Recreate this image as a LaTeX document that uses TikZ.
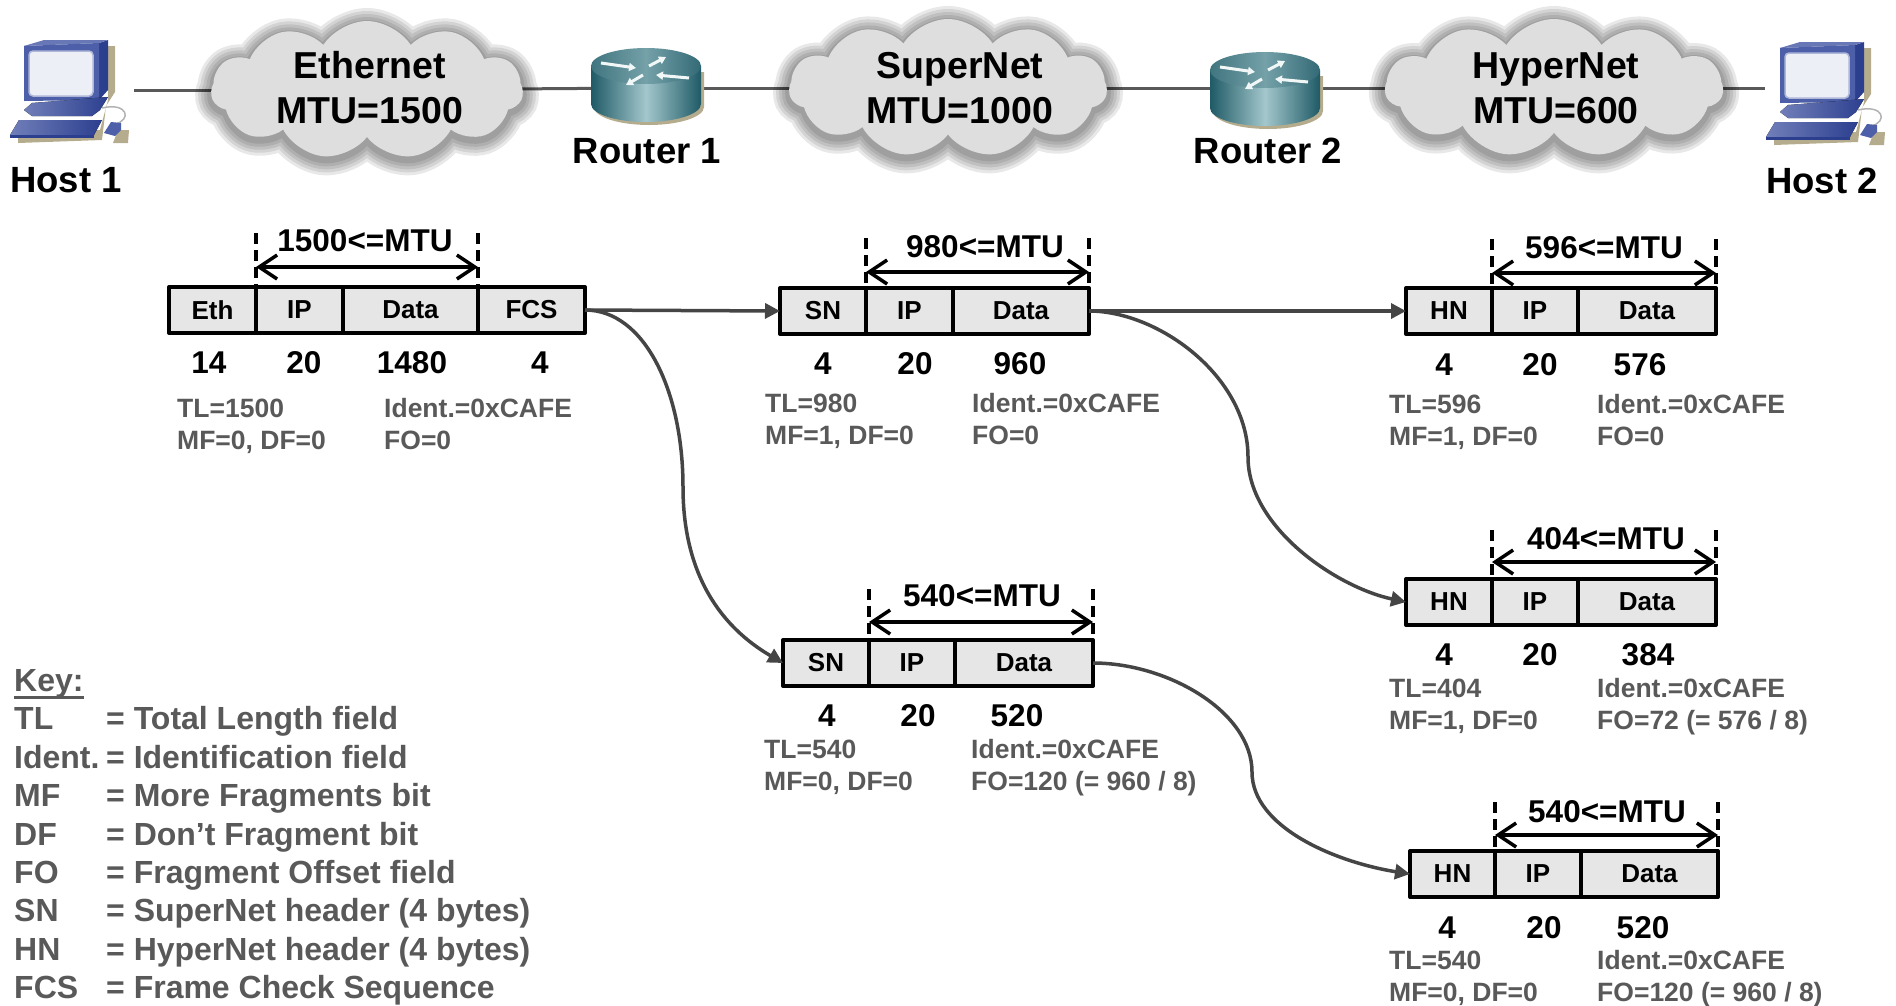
\documentclass[tikz,border=0pt]{standalone}
\usepackage{fontspec}
\setmainfont{Liberation Sans}
\usetikzlibrary{arrows.meta,shapes.symbols,backgrounds}

\definecolor{txtgray}{HTML}{595959}
\definecolor{linegray}{HTML}{454545}
\definecolor{cellgray}{HTML}{E6E6E6}
\definecolor{cloudgray}{HTML}{DEDEDE}
\definecolor{pcblue}{HTML}{4D5FA8}
\definecolor{pcdark}{HTML}{2C3F8F}
\definecolor{pctan}{HTML}{B5AC8E}
\definecolor{rtdark}{HTML}{1F5A66}
\definecolor{rtlight}{HTML}{A3C7CC}

\tikzset{
  netlabel/.style={font=\bfseries\fontsize{37.5}{45}\selectfont, align=center, inner sep=0pt},
  devlabel/.style={font=\bfseries\fontsize{36.5}{44}\selectfont, inner sep=0pt},
  mtulabel/.style={font=\bfseries\fontsize{31.5}{38}\selectfont, inner sep=0pt},
  num/.style={font=\bfseries\fontsize{31.5}{38}\selectfont, inner sep=0pt},
  cell/.style={draw=black, fill=cellgray, line width=4pt, line join=round, inner sep=0pt, outer sep=0pt,
    anchor=north west, minimum height=46pt, font=\bfseries\fontsize{26}{30}\selectfont},
  info/.style={font=\bfseries\fontsize{26.5}{32}\selectfont, text=txtgray, anchor=base west, inner sep=0pt},
  keyrow/.style={font=\bfseries\fontsize{32}{38}\selectfont, text=txtgray, anchor=base west, inner sep=0pt},
  netcloud/.style={cloud, cloud puffs=11, cloud puff arc=115, aspect=2, inner sep=0pt,
    minimum width=#1, minimum height=138pt},
  link/.style={draw=txtgray, line width=3pt},
  fragline/.style={draw=linegray, line width=3.5pt, -{Triangle[length=15pt,width=15pt]}},
  mtudash/.style={draw=black, line width=3.5pt, dash pattern=on 11pt off 6pt},
  mtuarrow/.style={draw=black, line width=3.5pt, {Straight Barb[length=18pt,width=24pt]}-{Straight Barb[length=18pt,width=24pt]}},
}

% cloud with grey halo: name, x, y, width, label x, text
\newcommand{\netarea}[6]{
  \foreach \w in {32,26,20,14,8}
    \node[netcloud=#4, draw=black, draw opacity=0.09, line width=\w pt] (#1halo\w) at (#2,#3+3) {};
  \node[netcloud=#4, fill=cloudgray] (#1) at (#2,#3) {};
  \node[netlabel] (#1txt) at (#5,88) {#6};
}

% computer icon, top left corner at x, y
\newcommand{\hostpc}[2]{
  \begin{scope}[shift={(#1,#2)}]
    \fill[pctan] (98,6) -- (105,6) -- (105,52) -- (96,66) -- (92,100) -- (8,103) -- (8,96) -- (90,90) -- (98,60) -- cycle;
    \fill[pctan] (103,103) -- (118,103) -- (119,90) -- (108,90) -- cycle;
    \fill[pcdark] (89,3) -- (98,0) -- (98,50) -- (89,60) -- cycle;
    \fill[pcblue!85!white] (14,6) -- (34,0) -- (98,0) -- (89,3) -- cycle;
    \fill[pcblue] (14,6) -- (89,3) -- (89,60) -- (14,61) -- cycle;
    \fill[draw=pcblue!45!white, line width=1.5pt, fill=white!90!pcblue, rounded corners=4pt] (19,11) rectangle (83,56);
    \fill[left color=pcblue!80!white, right color=pcdark] (14,70) -- (22,63) -- (98,57) -- (90,70) -- (82,76) -- (22,76) -- cycle;
    \fill[left color=pcblue!80!white, right color=pcdark] (9,80) -- (92,80) -- (84,95) -- (0,95) -- cycle;
    \fill[pcdark] (0,95) -- (84,95) -- (84,98) -- (0,98) -- cycle;
    \draw[gray!60, line width=1.5pt] (92,68) .. controls (118,62) and (122,80) .. (105,84);
    \fill[pcblue] (94,93) -- (101,82) -- (111,83) -- (111,90) -- (105,96) -- cycle;
  \end{scope}
}

% router icon, top left corner at x, y
\newcommand{\routerbox}[2]{
  \begin{scope}[shift={(#1,#2)}]
    \fill[pctan] (3,25) -- (3,60) arc[start angle=180, end angle=0, x radius=55, y radius=18] -- (113,25) -- cycle;
    \shade[left color=rtdark, right color=rtdark, middle color=rtlight]
      (0,19) -- (0,57) arc[start angle=180, end angle=0, x radius=55, y radius=18] -- (110,19) -- cycle;
    \shade[left color=rtdark!75!rtlight, right color=rtdark!85!rtlight, middle color=rtlight!65!rtdark] (55,19) ellipse[x radius=55, y radius=18];
    \foreach \ax/\ay/\bx/\by in {10/16/45/21, 58/19/75/10, 98/31/65/28, 52/28/35/38}
      \draw[white!85!rtlight, line width=3pt, -{Triangle[length=7pt,width=8pt]}] (\ax,\ay) -- (\bx,\by);
  \end{scope}
}

% frame cells: name, header, x0, x1, x2, x3, top
\newcommand{\fragbox}[7]{
  \node[cell, minimum width=#4-#3] (#1hdr) at (#3,#7) {#2};
  \node[cell, minimum width=#5-#4] (#1ip) at (#4,#7) {IP};
  \node[cell, minimum width=#6-#5] (#1data) at (#5,#7) {Data};
}

% mtu marker: name, x0, x1, top, arrow y, label x, label y, text
\newcommand{\mtumark}[8]{
  \coordinate (#1da) at (#2,#4);
  \coordinate (#1db) at (#3,#4);
  \draw[mtudash] (#1da) -- (#1ip.north west);
  \draw[mtudash] (#1db) -- (#1data.north east);
  \coordinate (#1aa) at (#2,#5);
  \coordinate (#1ab) at (#3,#5);
  \draw[mtuarrow] (#1aa) -- (#1ab);
  \node[mtulabel] (#1mtu) at (#6,#7) {#8};
}

% header lines: name, x left, x right, y, TL, MF/DF, FO
\newcommand{\fraginfo}[7]{
  \node[info] (#1tl) at (#2,#4+9) {#5};
  \node[info] (#1mf) at (#2,#4+41) {#6};
  \node[info] (#1id) at (#3,#4+9) {Ident.=0xCAFE};
  \node[info] (#1fo) at (#3,#4+41) {#7};
}

\begin{document}
\begin{tikzpicture}[x=1pt, y=-1pt]
  \useasboundingbox (0,0) rectangle (1896,1005);

  % top row
  \node[minimum width=124pt, minimum height=104pt, inner sep=0pt] (host1) at (72,90) {};
  \node[minimum width=119pt, minimum height=104pt, inner sep=0pt] (host2) at (1825,88) {};
  \node[devlabel] (host1txt) at (66,180) {Host 1};
  \node[devlabel] (host2txt) at (1822,181) {Host 2};
  \node[minimum width=110pt, minimum height=78pt, inner sep=0pt] (router1) at (646,88) {};
  \node[minimum width=110pt, minimum height=78pt, inner sep=0pt] (router2) at (1265,88) {};
  \node[devlabel] (router1txt) at (647,151) {Router 1};
  \node[devlabel] (router2txt) at (1268,151) {Router 2};

  \netarea{net1}{367}{90}{312pt}{370}{Ethernet\\MTU=1500}
  \netarea{net2}{948}{88}{318pt}{960}{SuperNet\\MTU=1000}
  \netarea{net3}{1554}{88}{338pt}{1556}{HyperNet\\MTU=600}

  \begin{scope}[on background layer]
    \draw[link] (host1.east) -- (net1.center);
    \draw[link] (net1.center) -- (router1.center);
    \draw[link] (router1.center) -- (net2.center);
    \draw[link] (net2.center) -- (router2.center);
    \draw[link] (router2.center) -- (net3.center);
    \draw[link] (net3.center) -- (host2.west);
  \end{scope}

  \hostpc{10}{40}
  \hostpc{1766}{42}
  \routerbox{591}{47}
  \routerbox{1210}{51}

  % frames
  \fragbox{eth}{Eth}{169}{256}{343}{478}{287}
  \node[cell, minimum width=107pt] (ethfcs) at (478,287) {FCS};
  \fragbox{sna}{SN}{780}{866}{953}{1089}{288}
  \fragbox{hna}{HN}{1406}{1492}{1578}{1716}{288}
  \fragbox{snb}{SN}{783}{869}{955}{1093}{640}
  \fragbox{hnb}{HN}{1406}{1492}{1578}{1716}{579}
  \fragbox{hnc}{HN}{1410}{1495}{1581}{1718}{851}

  \mtumark{eth}{256}{478}{233}{267}{365}{241}{1500<=MTU}
  \mtumark{sna}{866}{1089}{238}{272}{985}{247}{980<=MTU}
  \mtumark{hna}{1492}{1716}{239}{273}{1604}{248}{596<=MTU}
  \mtumark{snb}{869}{1093}{589}{622}{982}{596}{540<=MTU}
  \mtumark{hnb}{1492}{1716}{530}{562}{1606}{539}{404<=MTU}
  \mtumark{hnc}{1495}{1718}{802}{835}{1607}{812}{540<=MTU}

  % sizes
  \foreach \x/\t in {209/14, 304/20, 412/1480, 540/4}
    \node[num] (ethn\t) at (\x,363) {\t};
  \foreach \x/\t in {823/4, 915/20, 1020/960}
    \node[num] (snan\t) at (\x,364) {\t};
  \foreach \x/\t in {1444/4, 1540/20, 1640/576}
    \node[num] (hnan\t) at (\x,365) {\t};
  \foreach \x/\t in {827/4, 918/20, 1017/520}
    \node[num] (snbn\t) at (\x,716) {\t};
  \foreach \x/\t in {1444/4, 1540/20, 1648/384}
    \node[num] (hnbn\t) at (\x,655) {\t};
  \foreach \x/\t in {1447/4, 1544/20, 1643/520}
    \node[num] (hncn\t) at (\x,928) {\t};

  \fraginfo{eth}{177}{384}{408}{TL=1500}{MF=0, DF=0}{FO=0}
  \fraginfo{sna}{765}{972}{403}{TL=980}{MF=1, DF=0}{FO=0}
  \fraginfo{hna}{1389}{1597}{404}{TL=596}{MF=1, DF=0}{FO=0}
  \fraginfo{snb}{764}{971}{749}{TL=540}{MF=0, DF=0}{FO=120 (= 960 / 8)}
  \fraginfo{hnb}{1389}{1597}{688}{TL=404}{MF=1, DF=0}{FO=72 (= 576 / 8)}
  \fraginfo{hnc}{1389}{1597}{960}{TL=540}{MF=0, DF=0}{FO=120 (= 960 / 8)}

  % fragment paths
  \coordinate (ethbend) at (683,487);
  \coordinate (snabend) at (1248,457);
  \coordinate (snbbend) at (1252,772);
  \draw[fragline] (ethfcs.east) -- (snahdr.west);
  \draw[fragline] (ethfcs.east) .. controls +(60,0) and +(0,-95) .. (ethbend)
    .. controls +(0,90) and +(-60,-35) .. (snbhdr.west);
  \draw[fragline] (snadata.east) -- (hnahdr.west);
  \draw[fragline] (snadata.east) .. controls +(70,0) and +(0,-80) .. (snabend)
    .. controls +(0,70) and +(-70,-15) .. (hnbhdr.west);
  \draw[fragline] (snbdata.east) .. controls +(75,0) and +(0,-60) .. (snbbend)
    .. controls +(0,55) and +(-75,-12) .. (hnchdr.west);

  % key
  \node[keyrow] (keyhead) at (14,691) {Key:};
  \draw[txtgray, line width=3pt] ([yshift=-6pt]keyhead.base west) -- ([yshift=-6pt]keyhead.base east);
  \foreach \y/\k/\v in {729/TL/Total Length field, 768/Ident./Identification field,
      806/MF/More Fragments bit, 845/DF/Don’t Fragment bit, 883/FO/Fragment Offset field,
      921/SN/SuperNet header (4 bytes), 960/HN/HyperNet header (4 bytes), 998/FCS/Frame Check Sequence} {
    \node[keyrow] (key\k) at (14,\y) {\k};
    \node[keyrow] (val\k) at (106,\y) {= \v};
  }
\end{tikzpicture}
\end{document}
